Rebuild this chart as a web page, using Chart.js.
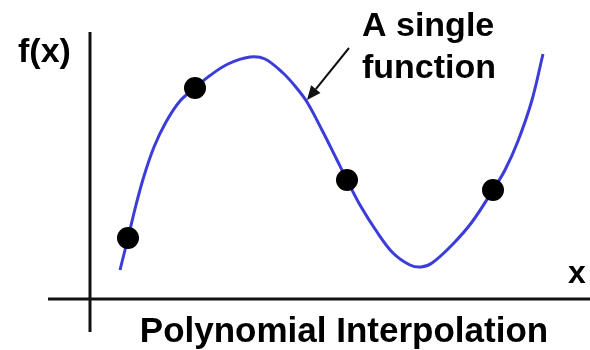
<!DOCTYPE html>
<html>
<head>
<meta charset="utf-8">
<script src="https://cdn.jsdelivr.net/npm/chart.js@4/dist/chart.umd.min.js"></script>
<style>
  html, body { margin: 0; padding: 0; background: #ffffff; }
  #wrap { width: 590px; height: 350px; position: relative; }
</style>
</head>
<body>
<div id="wrap"><canvas id="c" width="590" height="350"></canvas></div>
<script>
// Curve samples (x, f(x)) in chart units
const curveX = [0.60, 0.76, 0.92, 1.08, 1.28, 1.52, 1.80, 2.10, 2.40, 2.76, 3.20, 3.50, 3.86, 4.10, 4.34, 4.66, 4.94, 5.14, 5.40, 5.74, 6.06, 6.40, 6.62, 6.84, 7.24, 7.64, 8.06, 8.30, 8.56, 8.84, 9.06];
const curveY = [1.16, 2.44, 3.76, 4.92, 6.08, 7.08, 7.92, 8.44, 8.94, 9.40, 9.68, 9.60, 9.04, 8.52, 7.88, 6.68, 5.56, 4.76, 3.76, 2.68, 1.84, 1.36, 1.28, 1.44, 2.16, 3.08, 4.36, 5.16, 6.32, 7.96, 9.80];
// Data points to interpolate
const pointX = [0.76, 2.10, 5.14, 8.06];
const pointY = [2.44, 8.44, 4.76, 4.36];
// Annotation arrow (tail -> tip) in chart units
const arrowX = [5.18, 4.34];
const arrowY = [10.04, 7.96];
// Axis ranges
const xRange = [-0.84, 10.0];
const yRange = [-1.32, 10.68];
// Texts
const yLabel = 'f(x)';
const xLabel = 'x';
const noteLines = ['A single', 'function'];
const title = 'Polynomial Interpolation';

const curve = curveX.map((x, i) => ({ x: x, y: curveY[i] }));
const pts = pointX.map((x, i) => ({ x: x, y: pointY[i] }));

const decor = {
  id: 'decor',
  beforeDatasetsDraw(chart) {
    const { ctx, chartArea: a, scales: { x, y } } = chart;
    ctx.save();
    ctx.strokeStyle = '#111111';
    ctx.lineWidth = 3;
    ctx.beginPath();
    const y0 = y.getPixelForValue(0);
    const x0 = x.getPixelForValue(0);
    ctx.moveTo(a.left, y0); ctx.lineTo(a.right, y0);
    ctx.moveTo(x0, a.top); ctx.lineTo(x0, a.bottom);
    ctx.stroke();
    ctx.restore();
  },
  afterDatasetsDraw(chart) {
    const { ctx, scales: { x, y } } = chart;
    ctx.save();
    // arrow
    const tx = x.getPixelForValue(arrowX[0]), ty = y.getPixelForValue(arrowY[0]);
    const hx = x.getPixelForValue(arrowX[1]), hy = y.getPixelForValue(arrowY[1]);
    const ang = Math.atan2(hy - ty, hx - tx);
    const L = 14, W = 6;
    const bx = hx - L * Math.cos(ang), by = hy - L * Math.sin(ang);
    ctx.strokeStyle = '#111111';
    ctx.fillStyle = '#111111';
    ctx.lineWidth = 2;
    ctx.beginPath(); ctx.moveTo(tx, ty); ctx.lineTo(bx, by); ctx.stroke();
    ctx.beginPath();
    ctx.moveTo(hx, hy);
    ctx.lineTo(bx + W * Math.sin(ang), by - W * Math.cos(ang));
    ctx.lineTo(bx - W * Math.sin(ang), by + W * Math.cos(ang));
    ctx.closePath(); ctx.fill();

    // texts
    ctx.fillStyle = '#000000';
    ctx.textBaseline = 'alphabetic';
    ctx.font = 'bold 34px "Liberation Sans", Arial, sans-serif';
    ctx.textAlign = 'left';
    ctx.fillText(yLabel, 18, 62);
    ctx.fillText(noteLines[0], 362, 36);
    ctx.fillText(noteLines[1], 362, 78);
    ctx.font = 'bold 32px "Liberation Sans", Arial, sans-serif';
    ctx.fillText(xLabel, 568, 283);
    ctx.font = 'bold 35px "Liberation Sans", Arial, sans-serif';
    ctx.textAlign = 'center';
    ctx.fillText(title, 344, 342);
    ctx.restore();
  }
};

new Chart(document.getElementById('c'), {
  type: 'scatter',
  data: {
    datasets: [
      {
        label: 'points',
        data: pts,
        pointRadius: 11,
        pointHoverRadius: 11,
        pointBackgroundColor: '#000000',
        pointBorderColor: '#000000',
        pointBorderWidth: 0,
        showLine: false,
        clip: false,
        order: 0
      },
      {
        label: 'curve',
        data: curve,
        showLine: true,
        borderColor: '#3c3cd8',
        borderWidth: 3,
        pointRadius: 0,
        pointHoverRadius: 0,
        tension: 0.35,
        fill: false,
        clip: false,
        order: 1
      }
    ]
  },
  options: {
    responsive: false,
    animation: false,
    devicePixelRatio: 1,
    layout: { autoPadding: false, padding: { left: 48, right: 0, top: 32, bottom: 18 } },
    scales: {
      x: { type: 'linear', min: xRange[0], max: xRange[1], display: false },
      y: { type: 'linear', min: yRange[0], max: yRange[1], display: false }
    },
    plugins: {
      legend: { display: false },
      tooltip: { enabled: false },
      title: { display: false }
    },
    events: []
  },
  plugins: [decor]
});
</script>
</body>
</html>
